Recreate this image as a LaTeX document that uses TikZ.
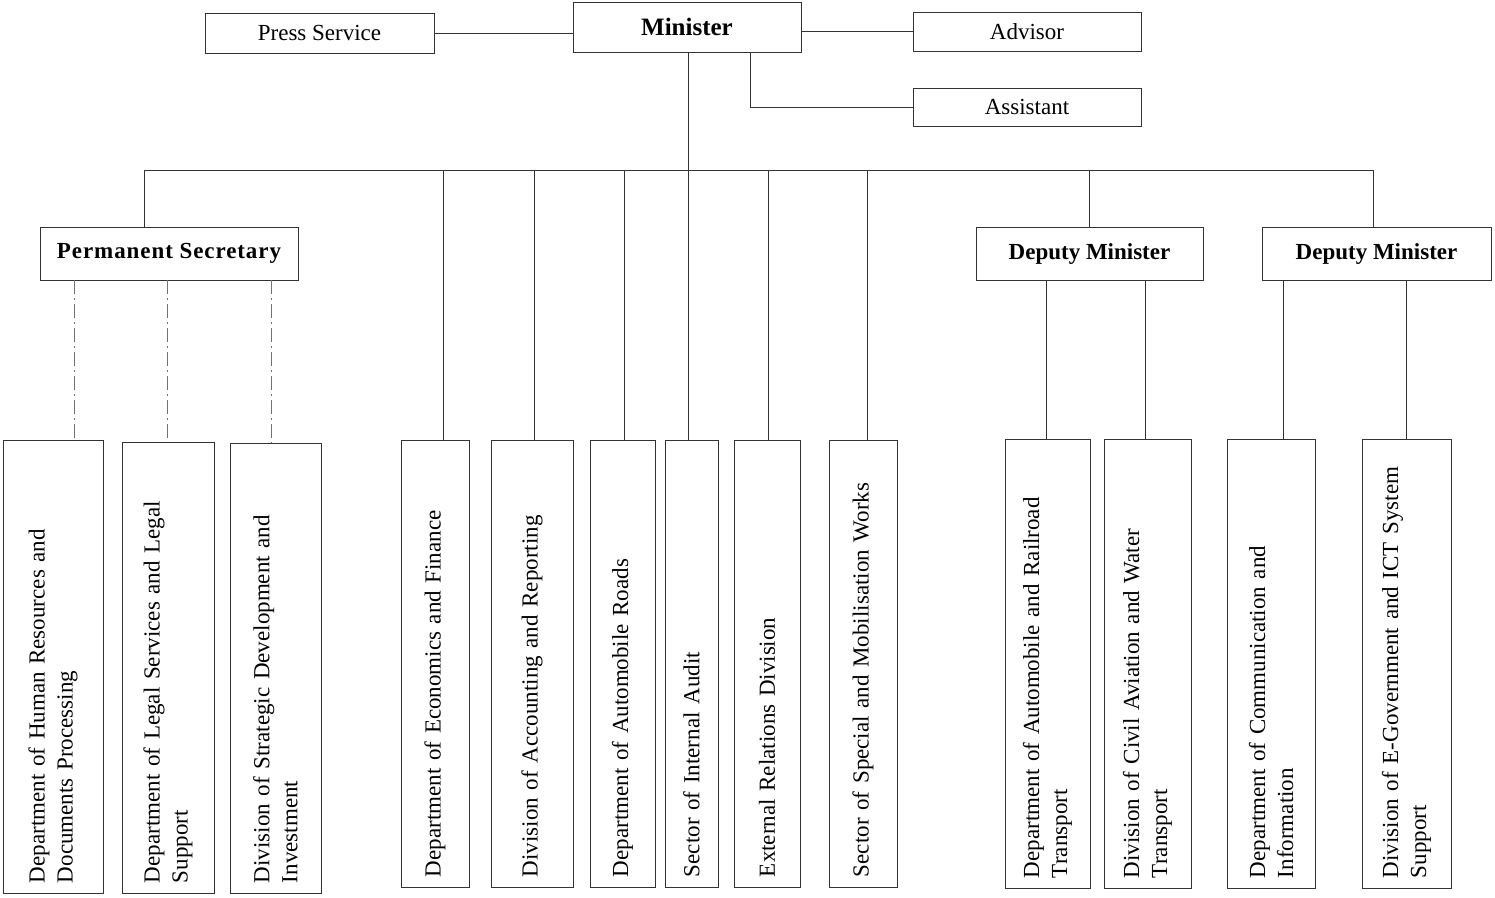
\documentclass[tikz,border=0pt]{standalone}
\usepackage{fontspec}
\setmainfont{Liberation Serif}
\begin{document}
\begin{tikzpicture}[x=1pt,y=-1pt,
  every node/.style={font=\fontsize{23}{28}\selectfont},
  box/.style={draw=black!80, line width=0.8pt, inner sep=0pt},
  boldbox/.style={box, font=\bfseries\fontsize{23}{28}\selectfont},
  vbox/.style={draw=black!80, line width=0.8pt, rotate=90, inner ysep=0pt, inner xsep=10pt, align=left},
  conn/.style={draw=black!80, line width=0.8pt},
  faint/.style={draw=black!55, line width=0.8pt, dash pattern=on 14pt off 4pt on 2pt off 4pt}]
\useasboundingbox (0,0) rectangle (1495,897);
% top level
\node[box, minimum width=229, minimum height=40] (press) at (319.5,33) {Press Service};
\node[box, minimum width=228, minimum height=50, font=\bfseries\fontsize{25}{30}\selectfont] (minister) at (687,27) {Minister};
\node[box, minimum width=228, minimum height=39] (advisor) at (1027,31.5) {Advisor};
\node[box, minimum width=228, minimum height=38] (assistant) at (1027,107) {Assistant};
% second level
\node[boldbox, minimum width=258, minimum height=53] (ps) at (169,253.5) {\addfontfeature{LetterSpace=4}Permanent Secretary};
\node[boldbox, minimum width=227, minimum height=53] (dm1) at (1089.5,253.5) {Deputy Minister};
\node[boldbox, minimum width=229, minimum height=53] (dm2) at (1376.5,253.5) {Deputy Minister};
% bottom boxes (rotated)
\node[vbox, text width=433, minimum height=100] (hr) at (53,666.5) {Department of Human Resources and\\Documents Processing};
\node[vbox, text width=431, minimum height=92] (legal) at (168,667.5) {Department of Legal Services and Legal\\Support};
\node[vbox, text width=430, minimum height=91] (strat) at (275.5,668) {Division of Strategic Development and\\Investment};
\node[vbox, text width=427, minimum height=68] (econ) at (435,663.5) {Department of Economics and Finance};
\node[vbox, text width=427, minimum height=82] (acc) at (532,663.5) {Division of Accounting and Reporting};
\node[vbox, text width=427, minimum height=65] (roads) at (622.5,663.5) {Department of Automobile Roads};
\node[vbox, text width=427, minimum height=53] (audit) at (691.5,663.5) {Sector of Internal Audit};
\node[vbox, text width=427, minimum height=66] (ext) at (767,663.5) {External Relations Division};
\node[vbox, text width=427, minimum height=68] (spec) at (863,663.5) {Sector of Special and Mobilisation Works};
\node[vbox, text width=429, minimum height=85] (rail) at (1047.5,663.5) {Department of Automobile and Railroad\\Transport};
\node[vbox, text width=429, minimum height=87] (civil) at (1147.5,663.5) {Division of Civil Aviation and Water\\Transport};
\node[vbox, text width=429, minimum height=88] (comm) at (1271,663.5) {Department of Communication and\\Information};
\node[vbox, text width=429, minimum height=89] (egov) at (1406.5,663.5) {Division of E-Government and ICT System\\Support};
% helper coordinates
\coordinate (bL) at (144,170);
\coordinate (bR) at (1373,170);
\coordinate (ma) at (750,0);
\coordinate (x1) at (443,0);
\coordinate (x2) at (534,0);
\coordinate (x3) at (624,0);
\coordinate (x4) at (688,0);
\coordinate (x5) at (768,0);
\coordinate (x6) at (867,0);
\coordinate (p1) at (74,0);
\coordinate (p2) at (167,0);
\coordinate (p3) at (271,0);
\coordinate (r1) at (1046,0);
\coordinate (r2) at (1145,0);
\coordinate (r3) at (1283,0);
\coordinate (r4) at (1406,0);
% connectors top
\draw[conn] (press.east) -- (press.east -| minister.west);
\draw[conn] (advisor.west -| minister.east) -- (advisor.west);
\draw[conn] (minister.south -| ma) |- (assistant.west);
\draw[conn] (minister.south -| x4) -- (bL -| x4);
\draw[conn] (ps.north -| bL) -- (bL) -- (bR) -- (dm2.north -| bR);
\draw[conn] (dm1.north) -- (dm1.north |- bL);
% direct subordinates
\draw[conn] (bL -| x1) -- (econ.east -| x1);
\draw[conn] (bL -| x2) -- (acc.east -| x2);
\draw[conn] (bL -| x3) -- (roads.east -| x3);
\draw[conn] (bL -| x4) -- (audit.east -| x4);
\draw[conn] (bL -| x5) -- (ext.east -| x5);
\draw[conn] (bL -| x6) -- (spec.east -| x6);
% permanent secretary
\draw[faint] (ps.south -| p1) -- (hr.east -| p1);
\draw[faint] (ps.south -| p2) -- (legal.east -| p2);
\draw[faint] (ps.south -| p3) -- (strat.east -| p3);
% deputy ministers
\draw[conn] (dm1.south -| r1) -- (rail.east -| r1);
\draw[conn] (dm1.south -| r2) -- (civil.east -| r2);
\draw[conn] (dm2.south -| r3) -- (comm.east -| r3);
\draw[conn] (dm2.south -| r4) -- (egov.east -| r4);
\end{tikzpicture}
\end{document}
